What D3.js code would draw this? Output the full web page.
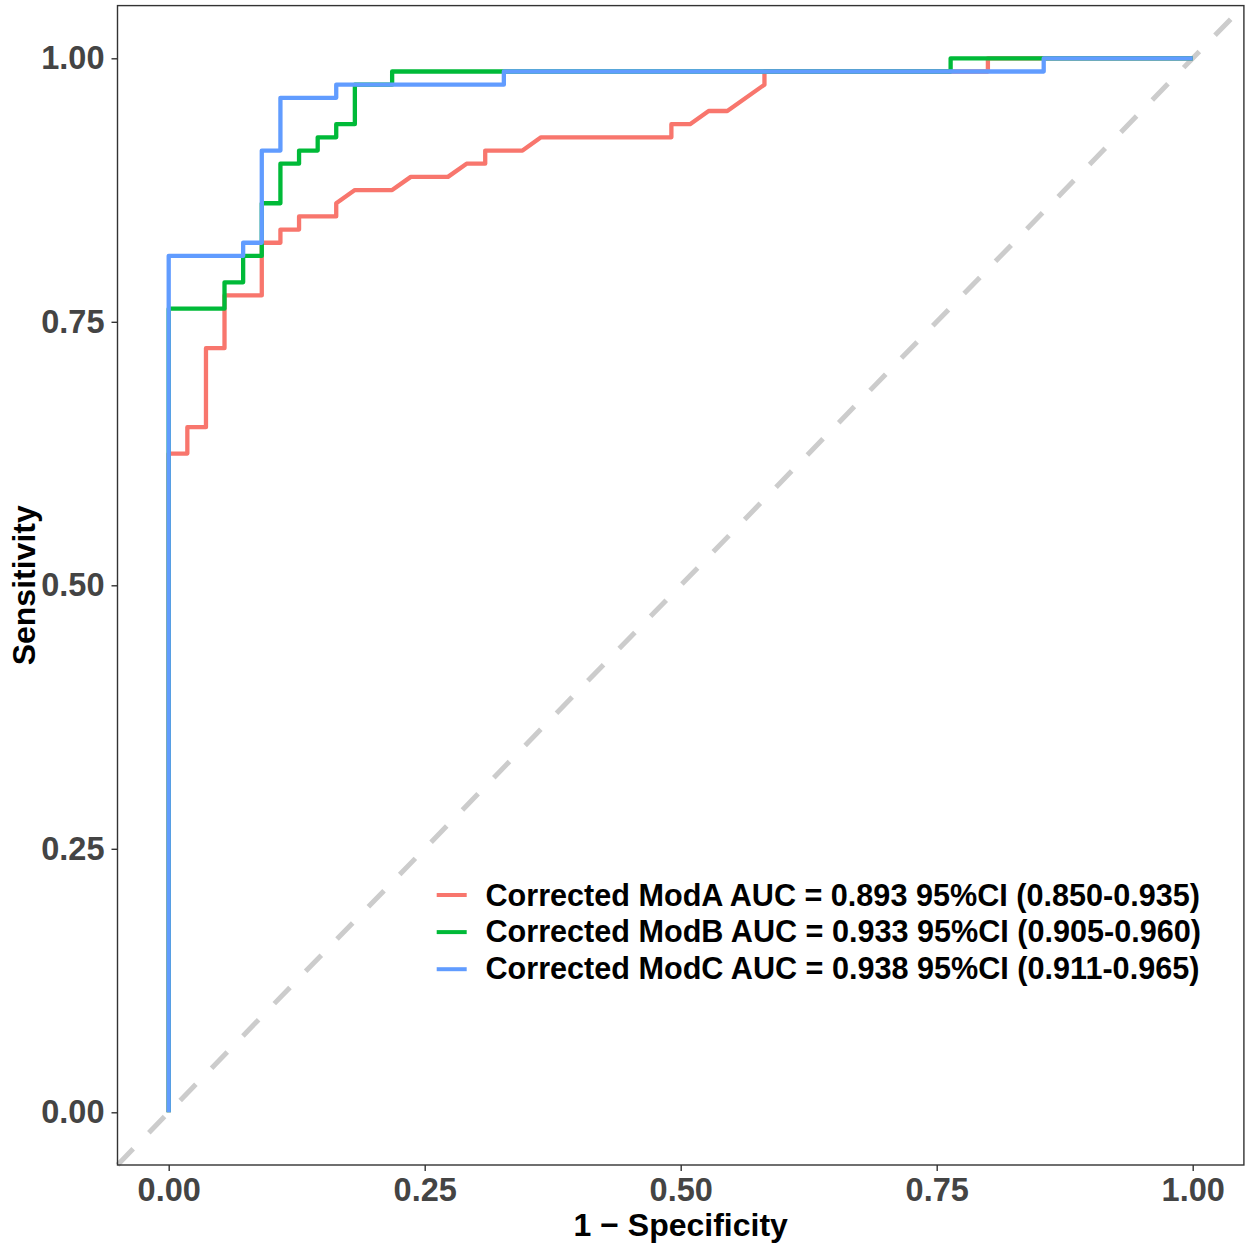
<!DOCTYPE html>
<html>
<head>
<meta charset="utf-8">
<script src="https://cdn.jsdelivr.net/npm/d3@7"></script>
<style>
  body { margin: 0; background: #fff; }
  text { font-family: "Liberation Sans", Arial, sans-serif; font-weight: bold; }
</style>
</head>
<body>
<script>
'use strict';

// ROC curves: 1 - specificity (fpr) and sensitivity (tpr).
const modA_fpr = [0, 0, 0.0182, 0.0182, 0.0364, 0.0364, 0.0545, 0.0545, 0.0909, 0.0909, 0.1091, 0.1091,
  0.1273, 0.1273, 0.1636, 0.1636, 0.1818, 0.2182, 0.2364, 0.2727, 0.2909, 0.3091, 0.3091, 0.3455, 0.3636,
  0.4909, 0.4909, 0.5091, 0.5273, 0.5455, 0.5818, 0.5818, 0.8, 0.8, 1];
const modA_tpr = [0, 0.625, 0.625, 0.65, 0.65, 0.725, 0.725, 0.775, 0.775, 0.825, 0.825, 0.8375,
  0.8375, 0.85, 0.85, 0.8625, 0.875, 0.875, 0.8875, 0.8875, 0.9, 0.9, 0.9125, 0.9125, 0.925,
  0.925, 0.9375, 0.9375, 0.95, 0.95, 0.975, 0.9875, 0.9875, 1, 1];

const modB_fpr = [0, 0, 0.0545, 0.0545, 0.0727, 0.0727, 0.0909, 0.0909, 0.1091, 0.1091, 0.1273, 0.1273,
  0.1455, 0.1455, 0.1636, 0.1636, 0.1818, 0.1818, 0.2182, 0.2182, 0.7636, 0.7636, 1];
const modB_tpr = [0, 0.7625, 0.7625, 0.7875, 0.7875, 0.8125, 0.8125, 0.8625, 0.8625, 0.9, 0.9, 0.9125,
  0.9125, 0.925, 0.925, 0.9375, 0.9375, 0.975, 0.975, 0.9875, 0.9875, 1, 1];

const modC_fpr = [0, 0, 0.0727, 0.0727, 0.0909, 0.0909, 0.1091, 0.1091, 0.1636, 0.1636, 0.3273, 0.3273, 0.8545, 0.8545, 1];
const modC_tpr = [0, 0.8125, 0.8125, 0.825, 0.825, 0.9125, 0.9125, 0.9625, 0.9625, 0.975, 0.975, 0.9875, 0.9875, 1, 1];

const legendLabels = [
  'Corrected ModA AUC = 0.893 95%CI (0.850-0.935)',
  'Corrected ModB AUC = 0.933 95%CI (0.905-0.960)',
  'Corrected ModC AUC = 0.938 95%CI (0.911-0.965)'
];
const colors = ['#F8766D', '#00BA38', '#619CFF'];
const tickValues = [0, 0.25, 0.5, 0.75, 1];

const width = 1250;
const height = 1250;
const margin = {top: 5.6, right: 6.1, bottom: 85, left: 117.5};
const innerWidth = width - margin.left - margin.right;
const innerHeight = height - margin.top - margin.bottom;

//Both axes keep ggplot's 5% expansion round 0..1.
const xScale = d3.scaleLinear().domain([-0.05, 1.05]).range([0, innerWidth]);
const yScale = d3.scaleLinear().domain([-0.05, 1.05]).range([innerHeight, 0]);

const svg = d3.select('body').append('svg')
  .attr('width', width)
  .attr('height', height);
svg.append('rect').attr('width', width).attr('height', height).attr('fill', '#fff');

const g = svg.append('g').attr('transform', `translate(${margin.left},${margin.top})`);

//Chance line across the whole panel.
g.append('line')
  .attr('x1', xScale(-0.05)).attr('y1', yScale(-0.05))
  .attr('x2', xScale(1.05)).attr('y2', yScale(1.05))
  .attr('stroke', '#CCCCCC')
  .attr('stroke-width', 5)
  .attr('stroke-dasharray', '22.5,22.5');

const curves = [
  {fpr: modA_fpr, tpr: modA_tpr},
  {fpr: modB_fpr, tpr: modB_tpr},
  {fpr: modC_fpr, tpr: modC_tpr}
];

const line = d3.line()
  .x((d) => xScale(d[0]))
  .y((d) => yScale(d[1]));

curves.forEach((c, i) => {
  const pts = c.fpr.map((f, j) => [f, c.tpr[j]]);
  g.append('path')
    .datum(pts)
    .attr('d', line)
    .attr('fill', 'none')
    .attr('stroke', colors[i])
    .attr('stroke-width', 4.3)
    .attr('stroke-linejoin', 'round');
});

//Axes.
const xAxis = d3.axisBottom(xScale).tickValues(tickValues).tickFormat(d3.format('.2f'))
  .tickSize(6).tickSizeOuter(0).tickPadding(7);
const yAxis = d3.axisLeft(yScale).tickValues(tickValues).tickFormat(d3.format('.2f'))
  .tickSize(6).tickSizeOuter(0).tickPadding(7);

const gx = g.append('g').attr('transform', `translate(0,${innerHeight})`).call(xAxis);
const gy = g.append('g').call(yAxis);
[gx, gy].forEach((ax) => {
  ax.select('.domain').remove();
  ax.selectAll('line').attr('stroke', '#333333').attr('stroke-width', 1.4);
  ax.selectAll('text')
    .attr('fill', '#444444')
    .style('font-size', '32.5px')
    .style('font-family', '"Liberation Sans", Arial, sans-serif')
    .style('font-weight', 'bold');
});

//Panel border.
g.append('rect')
  .attr('width', innerWidth)
  .attr('height', innerHeight)
  .attr('fill', 'none')
  .attr('stroke', '#333333')
  .attr('stroke-width', 1.4);

//Axis titles.
svg.append('text')
  .attr('x', margin.left + innerWidth / 2)
  .attr('y', 1236)
  .attr('text-anchor', 'middle')
  .attr('fill', '#000')
  .style('font-size', '32px')
  .text('1 \u2212 Specificity');

svg.append('text')
  .attr('transform', `translate(35,${margin.top + innerHeight / 2}) rotate(-90)`)
  .attr('text-anchor', 'middle')
  .attr('fill', '#000')
  .style('font-size', '32px')
  .text('Sensitivity');

//Legend inside the panel.
const legend = svg.append('g');
legendLabels.forEach((lab, i) => {
  const cy = 895 + i * 36.5;
  legend.append('line')
    .attr('x1', 436.7).attr('x2', 466.7)
    .attr('y1', cy + i * 0.6).attr('y2', cy + i * 0.6)
    .attr('stroke', colors[i])
    .attr('stroke-width', 4);
  legend.append('text')
    .attr('x', 485.5)
    .attr('y', cy + 10.9)
    .attr('fill', '#000')
    .style('font-size', '30.6px')
    .text(lab);
});
</script>
</body>
</html>
